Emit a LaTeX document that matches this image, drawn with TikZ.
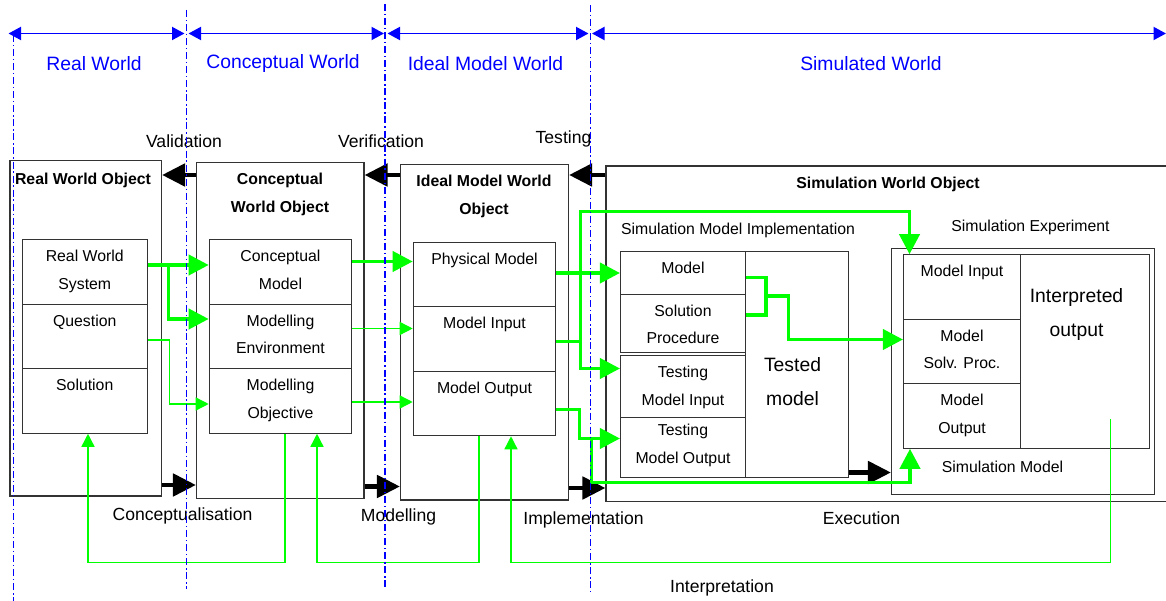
\documentclass[tikz,border=0pt]{standalone}
\usepackage{fontspec}
\setmainfont{Liberation Sans}
\usetikzlibrary{arrows.meta}
\definecolor{worldblue}{RGB}{0,0,255}
\definecolor{flowgreen}{RGB}{0,255,0}
\definecolor{boxgray}{RGB}{51,51,51}
\newcommand{\cellfont}{\fontsize{9}{15.8}\selectfont}
\newcommand{\stagefont}{\fontsize{10}{12}\selectfont}
\newcommand{\worldfont}{\fontsize{11}{13}\selectfont}
\newcommand{\bigfont}{\fontsize{11}{19.3}\selectfont}

\begin{document}
\begin{tikzpicture}[
  frame/.style={draw=boxgray, line width=0.6pt, inner sep=0pt},
  cell/.style={frame, minimum width=2.5cm},
  celltxt/.style={anchor=north, inner sep=0pt, yshift=-6pt, align=center, font=\cellfont},
  title/.style={anchor=north, inner sep=0pt, align=center, font=\cellfont\bfseries},
  plain/.style={inner sep=0pt, font=\cellfont},
  stage/.style={inner sep=0pt, font=\stagefont},
  world/.style={inner sep=0pt, font=\worldfont, text=worldblue},
  bigtxt/.style={anchor=north, inner sep=0pt, align=center, font=\bigfont},
  border/.style={worldblue, line width=0.6pt, dash pattern=on 4pt off 1.6pt on 0.8pt off 1.6pt},
  span/.style={worldblue, line width=1.1pt, {Triangle[length=2.5mm,width=2.6mm]}-{Triangle[length=2.5mm,width=2.6mm]}},
  back/.style={line width=2.8pt, -{Triangle[length=4.6mm,width=4.4mm]}},
  flow/.style={flowgreen, line width=2.2pt, -{Triangle[length=4mm,width=4mm]}},
  link/.style={flowgreen, line width=0.8pt, -{Triangle[length=2.6mm,width=2.6mm]}},
]
  \useasboundingbox (0,0) rectangle (23.32,-12.02);

  % World headings
  \node[world] (rwlbl) at (1.88,-1.28) {Real World};
  \node[world] (cwlbl) at (5.66,-1.28) {Conceptual World};
  \node[world] (imlbl) at (9.71,-1.28) {Ideal Model World};
  \node[world] (swlbl) at (17.42,-1.28) {Simulated World};

  \coordinate (b0) at (0.27,-0.67);
  \coordinate (b1) at (3.73,-0.67);
  \coordinate (b2) at (7.70,-0.67);
  \coordinate (b3) at (11.81,-0.67);
  \coordinate (b4) at (23.32,-0.67);
  \draw[span] ([xshift=-1mm]b0) -- ([xshift=-0.4mm]b1);
  \draw[span] ([xshift=0.4mm]b1) -- ([xshift=-0.2mm]b2);
  \draw[span] ([xshift=0.5mm]b2) -- ([xshift=-0.4mm]b3);
  \draw[span] ([xshift=0.3mm]b3) -- (b4);

  % Outer objects
  \node[frame, minimum width=3.03cm, minimum height=6.71cm] (rwo) at (1.715,-6.565) {};
  \node[frame, minimum width=3.35cm, minimum height=6.72cm] (cwo) at (5.605,-6.61) {};
  \node[frame, minimum width=3.36cm, minimum height=6.71cm] (imw) at (9.69,-6.645) {};
  \node[frame, minimum width=11.38cm, minimum height=6.71cm] (swo) at (17.81,-6.675) {};

  \node[title] (rwotitle) at (1.66,-3.46) {Real World Object};
  \node[title] (cwotitle) at (5.60,-3.46) {Conceptual\\World Object};
  \node[title] (imwtitle) at (9.68,-3.49) {Ideal Model World\\Object};
  \node[title] (swotitle) at (17.76,-3.54) {Simulation World Object};

  % Real world
  \node[cell, minimum height=1.29cm, label={[celltxt]north:Real World\\System}] (rws) at (1.695,-5.44) {};
  \node[cell, minimum height=1.29cm, label={[celltxt]north:Question}] (quest) at (1.695,-6.73) {};
  \node[cell, minimum height=1.29cm, label={[celltxt]north:Solution}] (sol) at (1.695,-8.02) {};

  % Conceptual world
  \node[cell, minimum width=2.85cm, minimum height=1.29cm, label={[celltxt]north:Conceptual\\Model}] (cmod) at (5.61,-5.44) {};
  \node[cell, minimum width=2.85cm, minimum height=1.29cm, label={[celltxt]north:Modelling\\Environment}] (menv) at (5.61,-6.73) {};
  \node[cell, minimum width=2.85cm, minimum height=1.29cm, label={[celltxt]north:Modelling\\Objective}] (mobj) at (5.61,-8.02) {};

  % Ideal model world
  \node[cell, minimum width=2.85cm, minimum height=1.29cm, label={[celltxt]north:Physical Model}] (phys) at (9.69,-5.49) {};
  \node[cell, minimum width=2.85cm, minimum height=1.29cm, label={[celltxt]north:Model Input}] (minp) at (9.69,-6.78) {};
  \node[cell, minimum width=2.85cm, minimum height=1.29cm, label={[celltxt]north:Model Output}] (mout) at (9.69,-8.07) {};

  % Simulation model implementation
  \node[plain] (impltxt) at (14.76,-4.60) {Simulation Model Implementation};
  \node[cell, minimum height=0.85cm, label={[celltxt]north:Model}] (model) at (13.66,-5.46) {};
  \node[cell, minimum height=1.17cm, label={[celltxt]north:Solution\\Procedure}] (solproc) at (13.66,-6.47) {};
  \node[cell, minimum height=1.24cm, label={[celltxt]north:Testing\\Model Input}] (tminp) at (13.66,-7.73) {};
  \node[cell, minimum height=1.20cm, label={[celltxt, yshift=2pt]north:Testing\\Model Output}] (tmout) at (13.66,-8.95) {};
  \node[frame, minimum width=2.05cm, minimum height=4.52cm] (tested) at (15.94,-7.29) {};
  \node[bigtxt] (testedtxt) at (15.85,-7.14) {Tested\\model};

  % Simulation experiment
  \node[plain] (exptxt) at (20.61,-4.55) {Simulation Experiment};
  \node[frame, minimum width=5.26cm, minimum height=4.93cm] (exp) at (20.46,-7.43) {};
  \node[cell, minimum width=2.34cm, minimum height=1.29cm, label={[celltxt]north:Model Input}] (xinp) at (19.24,-5.74) {};
  \node[cell, minimum width=2.34cm, minimum height=1.29cm, label={[celltxt]north:Model\\Solv. Proc.}] (xsol) at (19.24,-7.03) {};
  \node[cell, minimum width=2.34cm, minimum height=1.29cm, label={[celltxt]north:Model\\Output}] (xout) at (19.24,-8.32) {};
  \node[frame, minimum width=2.58cm, minimum height=3.87cm] (interp) at (21.70,-7.03) {};
  \node[bigtxt] (interptxt) at (21.53,-5.77) {Interpreted\\output};
  \node[plain] (simtxt) at (20.05,-9.33) {Simulation Model};

  % Stage names
  \node[stage] (vallbl) at (3.68,-2.82) {Validation};
  \node[stage] (verlbl) at (7.62,-2.82) {Verification};
  \node[stage] (tstlbl) at (11.27,-2.77) {Testing};
  \node[stage] (conlbl) at (3.65,-10.32) {Conceptualisation};
  \node[stage] (modlbl) at (7.97,-10.33) {Modelling};
  \node[stage] (implbl) at (11.67,-10.40) {Implementation};
  \node[stage] (exelbl) at (17.23,-10.36) {Execution};
  \node[stage] (intlbl) at (14.44,-11.76) {Interpretation};

  % Black arrows between worlds
  \draw[back] (cwo.west |- 0,-3.50) -- (rwo.east |- 0,-3.50);
  \draw[back] (imw.west |- 0,-3.50) -- (cwo.east |- 0,-3.50);
  \draw[back] (swo.west |- 0,-3.50) -- (imw.east |- 0,-3.50);
  \draw[back] (rwo.east |- 0,-9.70) -- (cwo.west |- 0,-9.70);
  \draw[back] (cwo.east |- 0,-9.73) -- (imw.west |- 0,-9.73);
  \draw[back] (imw.east |- 0,-9.76) -- (swo.west |- 0,-9.76);
  \draw[back] (tested.east |- 0,-9.45) -- (exp.west |- 0,-9.45);

  % Main flows
  \coordinate (jrw) at (3.37,-5.30);
  \draw[flow] (rws.east |- jrw) -- (cmod.west |- jrw);
  \draw[flow] (jrw) |- ([yshift=3.5mm]menv.west);
  \draw[flow] (cmod.east |- 0,-5.23) -- (phys.west |- 0,-5.23);
  \draw[flow] (phys.east |- model.west) -- (model.west);

  \coordinate (jmi) at (11.61,-6.83);
  \coordinate (jtop) at (18.19,-4.23);
  \draw[flow] (minp.east |- jmi) -- (jmi) |- ([yshift=3.6mm]tminp.west);
  \draw[flow] (jmi) |- (jtop) -- (xinp.north -| jtop);

  \coordinate (jmo) at (11.59,-8.19);
  \coordinate (jlow) at (11.83,-8.77);
  \coordinate (jexo) at (18.20,-9.65);
  \draw[flow] (mout.east |- jmo) -- (jmo) |- ([yshift=1.8mm]tmout.west);
  \draw[flow] (jlow) |- (jexo) -- (xout.south -| jexo);

  \coordinate (jsol) at (15.32,-5.92);
  \draw[flow, -] (model.east |- 0,-5.55) -| (jsol) |- (solproc.east |- 0,-6.30);
  \draw[flow] (jsol) -- ++(0.45,0) |- ([yshift=2.4mm]xsol.west);

  % Side links
  \draw[link] (quest.east |- 0,-6.80) -- (3.39,-6.80) |- ([yshift=-0.6mm]mobj.west);
  \draw[link] (menv.east |- 0,-6.57) -- (minp.west |- 0,-6.57);
  \draw[link] (mobj.east |- 0,-8.04) -- (mout.west |- 0,-8.04);

  % Feedback loops
  \draw[link] (mobj.south -| 5.70,0) |- (1.76,-11.25) -- (sol.south -| 1.76,0);
  \draw[link] (mout.south -| 9.58,0) |- (6.34,-11.25) -- (mobj.south -| 6.34,0);
  \coordinate (jint) at (22.21,-8.38);
  \draw[link] (jint) |- (10.22,-11.25) -- (mout.south -| 10.22,0);

  % World borders
  \foreach \x/\ytop/\ybot in {0.27/-0.70/-12.02, 3.73/-0.20/-11.78, 7.70/-0.08/-11.80, 11.81/-0.10/-11.84}
    \draw[border] (\x,\ytop) -- (\x,\ybot);
\end{tikzpicture}
\end{document}
